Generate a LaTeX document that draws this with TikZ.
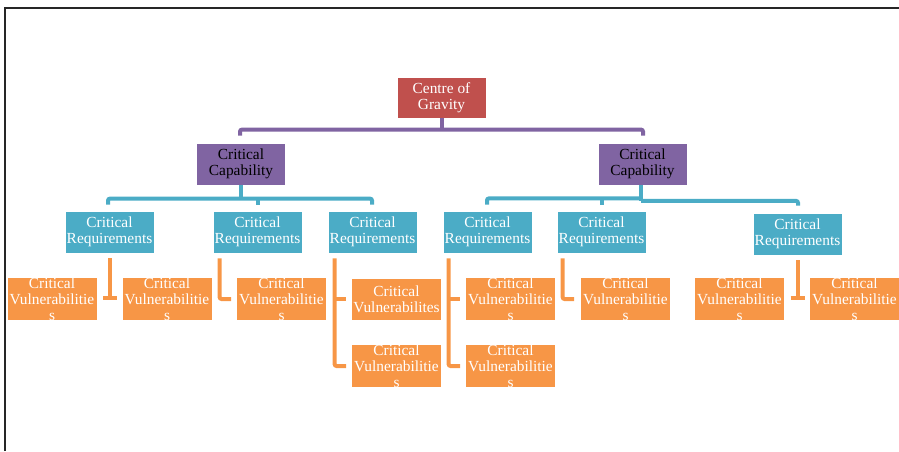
\documentclass[tikz,border=0pt]{standalone}
\usepackage{fontspec}
\setmainfont{Liberation Serif}
\usetikzlibrary{calc}
\definecolor{cogred}{HTML}{C0504D}
\definecolor{cappurple}{HTML}{8064A2}
\definecolor{reqblue}{HTML}{4BACC6}
\definecolor{vulorange}{HTML}{F79646}
\definecolor{framegray}{HTML}{262626}
\tikzset{
  box/.style={rectangle, draw=white, line width=0.8pt, inner sep=0pt, align=center,
    minimum width=89pt, minimum height=42pt, font=\fontsize{15.4}{16}\selectfont},
  cogbox/.style={box, fill=cogred, text=white, minimum height=41pt},
  capbox/.style={box, fill=cappurple, text=black},
  reqbox/.style={box, fill=reqblue, text=white},
  vulbox/.style={box, fill=vulorange, text=white, minimum width=90pt},
  pline/.style={draw=cappurple, line width=4pt, rounded corners=2pt},
  bline/.style={draw=reqblue, line width=4pt, rounded corners=2pt},
  oline/.style={draw=vulorange, line width=4pt, rounded corners=2pt},
}
\begin{document}
\begin{tikzpicture}[x=1pt, y=-1pt]
\useasboundingbox (0,0) rectangle (899,451);
\draw[framegray, line width=2pt] (4.5,451) -- (4.5,7.5) -- (899,7.5);

% nodes
\node[cogbox] (cog) at (441.5,97.5) {Centre of\\Gravity};
\node[capbox] (capL) at (241,164) {Critical\\Capability};
\node[capbox] (capR) at (642.5,164) {Critical\\Capability};

\node[reqbox] (req1) at (109.5,232) {Critical\\Requirements};
\node[reqbox] (req2) at (257.5,232) {Critical\\Requirements};
\node[reqbox] (req3) at (372.5,232) {Critical\\Requirements};
\node[reqbox] (req4) at (487.5,232) {Critical\\Requirements};
\node[reqbox] (req5) at (601.5,232) {Critical\\Requirements};
\node[reqbox] (req6) at (797.5,234) {Critical\\Requirements};

\node[vulbox] (v1) at (52,299) {Critical\\Vulnerabilitie\\s};
\node[vulbox] (v2) at (167,299) {Critical\\Vulnerabilitie\\s};
\node[vulbox] (v3) at (281.5,299) {Critical\\Vulnerabilitie\\s};
\node[vulbox] (v4) at (396.5,299) {Critical\\Vulnerabilites};
\node[vulbox] (v5) at (396.5,366) {Critical\\Vulnerabilitie\\s};
\node[vulbox] (v6) at (510.5,299) {Critical\\Vulnerabilitie\\s};
\node[vulbox] (v7) at (510.5,366) {Critical\\Vulnerabilitie\\s};
\node[vulbox] (v8) at (625.5,299) {Critical\\Vulnerabilitie\\s};
\node[vulbox] (v9) at (739.5,299) {Critical\\Vulnerabilitie\\s};
\node[vulbox] (v10) at (854.5,299) {Critical\\Vulnerabilitie\\s};

% purple bracket
\draw[pline] (cog.south) -- ++(0,12);
\draw[pline] ($(capL.north)+(-1,-7)$) -- ++(0,-6) -| ($(capR.north)+(0.5,-7)$);

% blue bracket left
\draw[bline] (capL.south) -- ++(0,14);
\draw[bline] ($(req1.north)+(-1.5,-6)$) -- ++(0,-6) -| ($(req3.north)+(-0.5,-6)$);
\draw[bline] ($(req2.north)+(0.5,-6)$) -- ++(0,-6);

% blue bracket right
\coordinate (bR) at ($(capR.south)+(-1.5,13)$);
\draw[bline] ($(capR.south)+(-1.5,0)$) -- ($(capR.south)+(-1.5,15.5)$);
\draw[bline] ($(req4.north)+(-0.5,-6)$) |- (bR);
\draw[bline] ($(bR)+(0,2.5)$) -| ($(req6.north)+(0.5,-7)$);
\draw[bline] ($(req5.north)+(0.5,-6)$) -- ++(0,-7);

% orange connectors
\draw[oline] ($(req1.south)+(0.5,5)$) -- ($(req1.south)+(0.5,45)$);
\draw[oline] ($(req1.south)+(-6.5,45)$) -- ++(14,0);

\draw[oline] ($(req2.south west)+(7,5)$) |- ($(v3.west)+(-5,0)$);

\draw[oline] ($(req3.south west)+(7,5)$) |- ($(v5.west)+(-5,0)$);
\draw[oline] ($(req3.south west |- v4.west)+(7,0)$) -- ($(v4.west)+(-5,0)$);

\draw[oline] ($(req4.south west)+(6,5)$) |- ($(v7.west)+(-5,0)$);
\draw[oline] ($(req4.south west |- v6.west)+(6,0)$) -- ($(v6.west)+(-5,0)$);

\draw[oline] ($(req5.south west)+(6,5)$) |- ($(v8.west)+(-6,0)$);

\draw[oline] ($(req6.south)+(0,5)$) -- ($(req6.south)+(0,43)$);
\draw[oline] ($(req6.south)+(-7,43)$) -- ++(14,0);
\end{tikzpicture}
\end{document}
